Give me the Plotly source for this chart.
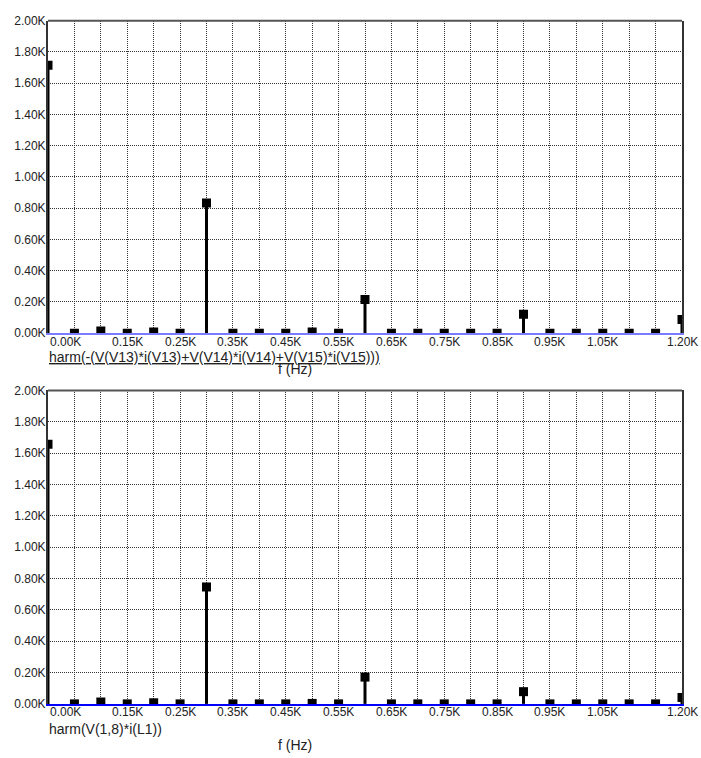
import plotly.graph_objects as go

W, H = 701, 758

freqs = [0, 50, 100, 150, 200, 250, 300, 350, 400, 450, 500, 550, 600,
         650, 700, 750, 800, 850, 900, 950, 1000, 1050, 1100, 1150, 1200]
top_vals = [1715, 0, 14, 0, 8, 0, 834, 0, 0, 0, 7, 0, 216,
            0, 0, 0, 0, 0, 121, 0, 0, 0, 0, 0, 88]
bot_vals = [1657, 0, 12, 0, 7, 0, 746, 0, 0, 0, 3, 0, 171,
            0, 0, 0, 0, 0, 78, 0, 0, 0, 0, 0, 41]
x_tick_vals = [0, 150, 250, 350, 450, 550, 650, 750, 850, 950, 1050, 1200]
x_tick_text = ["0.00K", "0.15K", "0.25K", "0.35K", "0.45K", "0.55K", "0.65K",
               "0.75K", "0.85K", "0.95K", "1.05K", "1.20K"]
y_tick_vals = [0, 200, 400, 600, 800, 1000, 1200, 1400, 1600, 1800, 2000]
y_tick_text = ["0.00K", "0.20K", "0.40K", "0.60K", "0.80K", "1.00K",
               "1.20K", "1.40K", "1.60K", "1.80K", "2.00K"]
top_label = "harm(-(V(V13)*i(V13)+V(V14)*i(V14)+V(V15)*i(V15)))"
bot_label = "harm(V(1,8)*i(L1))"
x_title = "f (Hz)"

FONT = "Liberation Sans, Arial, sans-serif"
TXT = "#222222"

# pixel geometry
PL, PR = 48, 682
panels = [
    dict(top=14, bottom=332.3, vals=top_vals, axcol="#7b7bff", label=top_label,
         underline=True, tick_y=341, lab_y=356.5, f_y=368.5),
    dict(top=390.7, bottom=710, vals=bot_vals, axcol="#0000ff", label=bot_label,
         underline=False, tick_y=718, lab_y=736, f_y=752),
]

def py(p):
    return 1 - p / H

fig = go.Figure()
annotations = []
shapes = []

for i, p in enumerate(panels):
    n = "" if i == 0 else str(i + 1)
    xa, ya = "x" + n, "y" + n
    # stems
    sx, sy = [], []
    for f, v in zip(freqs, p["vals"]):
        sx += [f, f, None]
        sy += [0, v, None]
    fig.add_trace(go.Scatter(x=sx, y=sy, mode="lines", xaxis=xa, yaxis=ya,
                             line=dict(color="black", width=3),
                             hoverinfo="skip", showlegend=False))
    fig.add_trace(go.Scatter(x=freqs, y=p["vals"], mode="markers", xaxis=xa, yaxis=ya,
                             marker=dict(symbol="square", size=9, color="black",
                                         line=dict(width=0)),
                             showlegend=False))
    fig.layout["xaxis" + n] = dict(
        domain=[PL / W, PR / W], range=[0, 1200], anchor=ya,
        tickvals=freqs, showticklabels=False, ticks="",
        showgrid=True, gridcolor="#333333", griddash="1px,1px", gridwidth=1,
        showline=True, linecolor=p["axcol"], linewidth=2, zeroline=False,
    )
    fig.layout["yaxis" + n] = dict(
        domain=[py(p["bottom"]), py(p["top"])], range=[0, 2000], anchor=xa,
        tickvals=y_tick_vals, ticktext=y_tick_text, ticks="",
        tickfont=dict(family=FONT, size=12, color=TXT),
        showgrid=True, gridcolor="#333333", griddash="1px,1px", gridwidth=1,
        showline=True, linecolor="#333333", linewidth=2, mirror=True,
        zeroline=False, ticklabelstandoff=-2,
    )
    # top border
    shapes.append(dict(type="line", xref="paper", yref="paper",
                       x0=PL / W, x1=PR / W, y0=py(p["top"]), y1=py(p["top"]),
                       line=dict(color="#555555", width=2)))
    # x tick labels
    for v, t in zip(x_tick_vals, x_tick_text):
        annotations.append(dict(
            x=v, y=py(p["tick_y"]), xref=xa, yref="paper",
            text=t, showarrow=False, yanchor="middle",
            xanchor="left" if v == 0 else "center",
            font=dict(family=FONT, size=12, color=TXT)))
    lab = "<u>" + p["label"] + "</u>" if p["underline"] else p["label"]
    annotations.append(dict(x=PL / W, y=py(p["lab_y"]), xref="paper", yref="paper",
                            text=lab, showarrow=False, xanchor="left", yanchor="middle",
                            xshift=-1, font=dict(family=FONT, size=14, color=TXT)))
    annotations.append(dict(x=295 / W, y=py(p["f_y"]), xref="paper", yref="paper",
                            text=x_title, showarrow=False, xanchor="center",
                            yanchor="middle",
                            font=dict(family=FONT, size=14, color=TXT)))

fig.update_layout(
    width=W, height=H, margin=dict(l=0, r=0, t=0, b=0),
    paper_bgcolor="white", plot_bgcolor="white",
    annotations=annotations, shapes=shapes, showlegend=False,
)

fig.write_html("out.html", config={"displayModeBar": False},
               post_script="document.body.style.margin='0';"
                           "document.body.style.overflow='hidden';")
